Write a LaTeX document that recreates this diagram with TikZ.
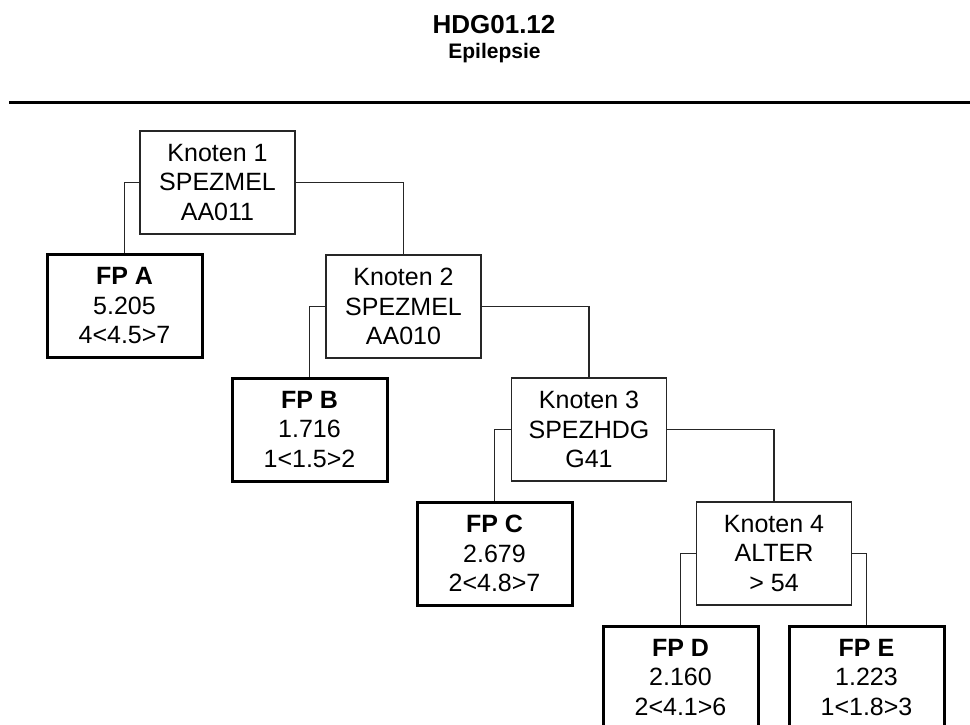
\documentclass[tikz,border=0pt]{standalone}
\usepackage{fontspec}
\setmainfont{Liberation Sans}
\begin{document}
\begin{tikzpicture}[x=1pt,y=-1pt,
  knot/.style={draw=black!85,line width=1.4pt,rectangle,minimum width=155pt,minimum height=103pt,inner sep=0pt,align=center,font=\fontsize{25}{29.5}\selectfont},
  leaf/.style={knot,draw=black,line width=3pt},
  conn/.style={draw=black!85,line width=1.4pt},
  ttl/.style={anchor=base,inner sep=0pt,font=\bfseries\fontsize{26}{30}\selectfont}]
\useasboundingbox (0,0) rectangle (970,724);
\node[ttl] (title) at (494,33.3) {HDG01.12};
\node[ttl,font=\bfseries\fontsize{21}{25}\selectfont] (sub) at (494.5,58.3) {Epilepsie};
\coordinate (rl) at (9,102.5);
\coordinate (rr) at (970,102.5);
\draw[line width=2.6pt] (rl) -- (rr);

\node[knot] (k1) at (217.5,182.5) {Knoten 1\\SPEZMEL\\AA011};
\node[leaf] (fa) at (124.5,306) {\textbf{FP A}\\5.205\\4<4.5>7};
\node[knot] (k2) at (403.5,306.5) {Knoten 2\\SPEZMEL\\AA010};
\node[leaf] (fb) at (309.5,429.5) {\textbf{FP B}\\1.716\\1<1.5>2};
\node[knot] (k3) at (589,429.5) {Knoten 3\\SPEZHDG\\G41};
\node[leaf] (fc) at (494.5,553.5) {\textbf{FP C}\\2.679\\2<4.8>7};
\node[knot] (k4) at (774,553.5) {Knoten 4\\ALTER\\> 54};
\node[leaf] (fd) at (680.5,677.5) {\textbf{FP D}\\2.160\\2<4.1>6};
\node[leaf] (fe) at (866.5,677.5) {\textbf{FP E}\\1.223\\1<1.8>3};

\draw[conn] (k1.west) -| (fa.north);
\draw[conn] (k1.east) -| (k2.north);
\draw[conn] (k2.west) -| (fb.north);
\draw[conn] (k2.east) -| (k3.north);
\draw[conn] (k3.west) -| (fc.north);
\draw[conn] (k3.east) -| (k4.north);
\draw[conn] (k4.west) -| (fd.north);
\draw[conn] (k4.east) -| (fe.north);
\end{tikzpicture}
\end{document}
